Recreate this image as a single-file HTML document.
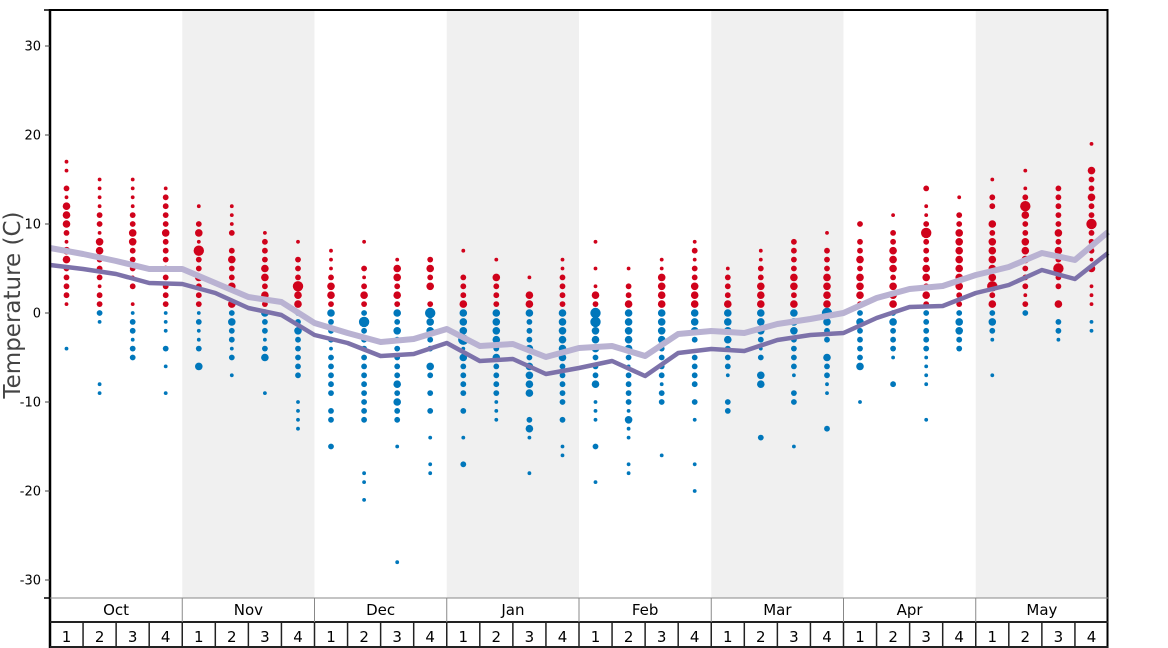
<!DOCTYPE html>
<html><head><meta charset="utf-8"><style>
html,body{margin:0;padding:0;background:#fff;}
svg{display:block;font-family:"DejaVu Sans","Liberation Sans",sans-serif;}
</style></head><body>
<svg id="s" width="1168" height="648" viewBox="0 0 1168 648" xmlns="http://www.w3.org/2000/svg">
<rect x="0" y="0" width="1168" height="648" fill="#fff"/>
<g id="bg"></g>
<g id="dots"></g>
<g id="lines"></g>
<g id="axes"></g>
<text x="20" y="305" font-size="23" fill="#444" text-anchor="middle" transform="rotate(-90 20 305)">Temperature (C)</text>
</svg>
<script>
var NS="http://www.w3.org/2000/svg";
function el(p,t,a,txt){var e=document.createElementNS(NS,t);for(var k in a)e.setAttribute(k,a[k]);if(txt!=null)e.textContent=txt;document.getElementById(p).appendChild(e);return e;}
var X0=50,W=33.0625;
function Y(t){return 313-8.9*t;}
[1,3,5,7].forEach(function(m){el("bg","rect",{x:X0+m*4*W,y:10,width:4*W,height:588,fill:"#f0f0f0"});});
var D=[
"17:1,16:1,14:2,13:1,12:3,11:3,10:3,9:2,8:1,7:3,6:3,5:2,4:2,3:2,2:2,1:1,-4:1",
"15:1,14:1,13:1,12:1,11:2,10:2,9:1,8:3,7:3,6:2,5:2,4:2,3:1,2:2,1:2,0:2,-1:1,-8:1,-9:1",
"15:1,14:1,13:1,12:1,11:2,10:2,9:3,8:3,7:2,6:2,5:2,4:1,3:2,1:1,0:1,-1:2,-2:2,-3:1,-4:2,-5:2",
"14:1,13:2,12:2,11:2,10:2,9:3,8:2,7:2,6:2,5:2,4:2,3:2,2:2,1:2,0:1,-1:1,-2:1,-4:2,-6:1,-9:1",
"12:1,10:2,9:3,8:1,7:4,6:2,5:2,4:3,3:2,2:2,1:2,0:1,-1:2,-2:1,-3:1,-4:2,-6:3",
"12:1,11:1,10:1,9:2,7:2,6:3,5:2,4:2,3:3,1:3,0:2,-1:3,-2:2,-3:2,-4:1,-5:2,-7:1",
"9:1,8:2,7:2,6:2,5:3,4:3,3:2,2:3,1:2,0:3,-1:2,-2:2,-3:1,-4:2,-5:3,-9:1",
"8:1,6:2,5:2,4:2,3:4,2:3,1:3,0:2,-1:2,-2:3,-3:2,-4:2,-5:2,-6:2,-7:2,-10:1,-11:1,-12:1,-13:1",
"7:1,6:1,5:1,4:2,3:3,2:3,1:2,0:3,-1:2,-2:2,-3:2,-4:1,-5:2,-6:2,-7:2,-8:2,-9:2,-11:2,-12:2,-15:2",
"8:1,5:2,4:1,3:2,2:3,1:2,0:2,-1:4,-2:2,-3:2,-4:2,-5:2,-6:2,-7:2,-8:2,-9:2,-10:2,-11:2,-12:2,-18:1,-19:1,-21:1",
"6:1,5:3,4:3,3:2,2:3,1:2,0:3,-1:2,-2:3,-3:2,-4:2,-5:2,-6:2,-7:2,-8:3,-9:2,-10:3,-11:2,-12:2,-15:1,-28:1",
"6:2,5:3,4:2,3:3,1:2,0:4,-1:3,-2:3,-3:2,-4:2,-6:3,-7:2,-9:2,-11:2,-14:1,-17:1,-18:1",
"7:1,4:2,3:2,2:2,1:3,0:3,-1:3,-2:3,-3:4,-4:1,-5:3,-6:2,-7:2,-8:2,-9:2,-11:2,-14:1,-17:2",
"6:1,4:3,3:2,2:2,1:2,0:3,-1:3,-2:3,-3:3,-4:2,-5:3,-6:2,-7:2,-8:2,-9:2,-10:1,-11:1,-12:1",
"4:1,2:3,1:3,0:3,-1:2,-2:2,-3:2,-4:3,-5:2,-6:3,-7:3,-8:3,-9:3,-12:2,-13:3,-14:1,-18:1",
"6:1,5:1,4:2,3:2,2:2,1:2,0:3,-1:3,-2:3,-3:3,-4:3,-5:3,-6:2,-7:2,-8:2,-9:2,-10:2,-12:2,-15:1,-16:1",
"8:1,5:1,3:1,2:3,1:2,0:4,-1:4,-2:3,-3:3,-4:3,-5:2,-6:2,-7:2,-8:3,-10:1,-11:1,-12:1,-15:2,-19:1",
"5:1,3:2,2:2,1:3,0:3,-1:3,-2:3,-3:3,-4:3,-5:2,-6:1,-7:2,-8:2,-9:2,-10:2,-11:1,-12:3,-13:1,-14:1,-17:1,-18:1",
"6:1,5:1,4:3,3:3,2:3,1:3,0:3,-1:3,-2:3,-3:3,-4:2,-5:2,-6:2,-7:2,-8:1,-9:2,-10:2,-16:1",
"8:1,7:2,6:1,5:2,4:2,3:3,2:3,1:3,0:3,-1:3,-2:3,-3:2,-5:2,-6:2,-7:2,-8:2,-10:2,-12:1,-17:1,-20:1",
"5:1,4:2,3:2,2:2,1:3,0:3,-1:3,-2:3,-3:3,-4:2,-5:2,-6:2,-7:1,-10:2,-11:2",
"7:1,6:1,5:2,4:2,3:3,2:3,1:3,0:3,-1:3,-2:3,-3:2,-4:1,-5:2,-7:3,-8:3,-14:2",
"8:2,7:2,6:2,5:2,4:3,3:3,2:2,1:3,0:3,-1:3,-2:3,-3:2,-4:2,-5:2,-6:2,-7:1,-9:2,-10:2,-15:1",
"9:1,7:2,6:2,5:2,4:3,3:3,2:3,1:3,0:4,-1:3,-2:2,-3:2,-5:3,-6:2,-7:2,-8:1,-9:1,-13:2",
"10:2,8:2,7:2,6:3,5:2,4:3,3:3,2:3,1:2,0:2,-1:3,-2:2,-3:2,-4:2,-5:2,-6:3,-10:1",
"11:1,9:2,8:2,7:3,6:3,5:3,4:2,3:3,2:3,1:3,0:2,-1:3,-2:2,-3:2,-4:2,-5:1,-8:2",
"14:2,12:1,11:1,10:2,9:4,8:2,7:2,6:2,5:3,4:3,3:2,2:3,1:2,0:2,-1:2,-2:2,-3:2,-4:2,-5:1,-6:1,-7:1,-8:1,-12:1",
"13:1,11:2,10:2,9:3,8:3,7:3,6:3,5:3,4:3,3:3,2:2,1:2,0:2,-1:3,-2:3,-3:2,-4:2",
"15:1,13:2,12:2,10:3,9:2,8:3,7:3,6:3,5:3,4:3,3:4,2:2,1:3,0:2,-1:3,-2:2,-3:1,-7:1",
"16:1,14:1,13:2,12:4,11:3,10:2,9:2,8:3,7:3,6:3,5:2,4:2,3:2,2:1,1:2,0:2",
"14:2,13:2,12:2,11:2,10:2,9:3,8:2,7:3,6:2,5:4,4:2,3:2,1:3,-1:2,-2:2,-3:1",
"19:1,16:3,15:2,14:2,13:3,12:2,11:2,10:4,9:2,8:2,7:2,6:1,5:3,3:1,2:1,1:1,-1:1,-2:1"];
var R={1:1.9,2:2.9,3:3.8,4:5.2};
D.forEach(function(s,i){var cx=X0+W*(i+0.5);s.split(",").forEach(function(p){var a=p.split(":");var t=+a[0];
el("dots","circle",{cx:cx.toFixed(1),cy:Y(t).toFixed(1),r:R[a[1]],fill:t>0?"#d0021b":"#0077bb"});});});
var L=[248,254,261,269,269,283,297,302,323,333,342,339,329,346,344,357,348,346,356,334,331,333,324,319,313,298,289,286,275,267,253,260,232];
var Dk=[265,269,274,283,284,293,308,315,335,343,356,354,343,361,359,374,368,361,376,353,349,351,340,335,333,318,307,306,293,285,270,279,253];
function pts(a){return a.map(function(y,k){return (X0+W*k).toFixed(1)+","+y;}).join(" ");}
el("lines","polyline",{points:pts(L),fill:"none",stroke:"#b9b2d2","stroke-width":6,"stroke-linejoin":"round"});
el("lines","polyline",{points:pts(Dk),fill:"none",stroke:"#7d72aa","stroke-width":4.5,"stroke-linejoin":"round"});
el("axes","line",{x1:50,y1:10,x2:1108,y2:10,stroke:"#000","stroke-width":2});
el("axes","line",{x1:50,y1:9,x2:50,y2:648,stroke:"#000","stroke-width":2.5});
el("axes","line",{x1:1107.5,y1:9,x2:1107.5,y2:648,stroke:"#000","stroke-width":2});
el("axes","line",{x1:44,y1:10,x2:50,y2:10,stroke:"#000","stroke-width":1.5});
el("axes","line",{x1:44,y1:598,x2:50,y2:598,stroke:"#000","stroke-width":1.5});
for(var t=-30;t<=30;t+=10){var y=Y(t);el("axes","line",{x1:45,y1:y,x2:50,y2:y,stroke:"#444","stroke-width":1});
el("axes","text",{x:41,y:y+4.5,"font-size":13,"text-anchor":"end",fill:"#000"},String(t));}
el("axes","line",{x1:50,y1:598,x2:1108,y2:598,stroke:"#888","stroke-width":1});
el("axes","line",{x1:50,y1:622,x2:1108,y2:622,stroke:"#222","stroke-width":2});
el("axes","line",{x1:50,y1:647,x2:1108,y2:647,stroke:"#222","stroke-width":2});
var M=["Oct","Nov","Dec","Jan","Feb","Mar","Apr","May"];
M.forEach(function(m,i){var x=X0+i*4*W;
if(i>0)el("axes","line",{x1:x,y1:598,x2:x,y2:622,stroke:"#888","stroke-width":1});
el("axes","text",{x:(x+2*W).toFixed(1),y:615,"font-size":15,"text-anchor":"middle",fill:"#000"},m);
for(var w=0;w<4;w++){var wx=x+w*W;if(i>0||w>0)el("axes","line",{x1:wx,y1:622,x2:wx,y2:648,stroke:"#222","stroke-width":1.5});
el("axes","text",{x:(wx+W/2).toFixed(1),y:642,"font-size":15,"text-anchor":"middle",fill:"#000"},String(w+1));}});
</script>
</body></html>
